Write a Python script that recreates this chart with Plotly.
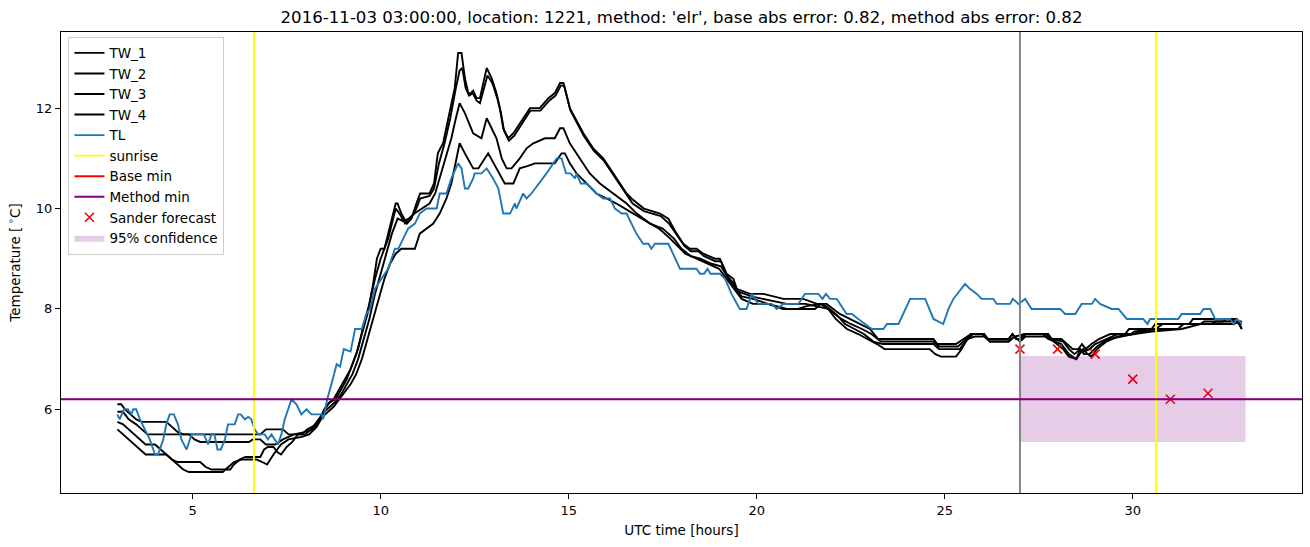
import plotly.graph_objects as go

# ---------------- data ----------------
# each series: list of (UTC hour, temperature)
TW_1 = [(3.0,6.1),(3.1,6.1),(3.2,6.0),(3.35,5.9),(3.5,5.8),(3.65,5.75),(4.3,5.75),(4.45,5.65),(4.6,5.55),(4.75,5.5),(6.8,5.5),(6.95,5.6),(7.4,5.6),(7.55,5.5),(7.9,5.5),(8.05,5.6),(8.3,5.7),(8.45,5.9),(8.6,6.1),(8.75,6.2),(8.9,6.4),(9.05,6.6),(9.2,6.8),(9.35,7.1),(9.5,7.5),(9.65,7.9),(9.8,8.5),(9.9,9.0),(10.0,9.2),(10.1,9.2),(10.2,9.5),(10.3,9.8),(10.4,10.1),(10.45,10.1),(10.55,9.9),(10.7,9.7),(10.82,9.8),(10.95,10.1),(11.05,10.3),(11.3,10.3),(11.42,10.5),(11.52,11.1),(11.66,11.3),(11.8,11.8),(11.97,12.4),(12.06,13.1),(12.15,13.1),(12.24,12.6),(12.33,12.3),(12.4,12.3),(12.46,12.35),(12.55,12.2),(12.64,12.2),(12.82,12.8),(12.95,12.6),(13.08,12.3),(13.17,12.0),(13.26,11.6),(13.39,11.4),(13.53,11.5),(13.79,11.8),(13.97,12.0),(14.23,12.0),(14.46,12.2),(14.63,12.3),(14.77,12.5),(14.86,12.5),(15.03,12.0),(15.39,11.5),(15.65,11.2),(15.92,11.0),(16.27,10.6),(16.54,10.3),(16.67,10.2),(17.0,10.0),(17.43,9.9),(17.65,9.8),(17.87,9.5),(18.05,9.3),(18.22,9.2),(18.4,9.2),(18.58,9.1),(18.89,9.0),(19.02,9.0),(19.2,8.7),(19.38,8.6),(19.47,8.4),(19.82,8.3),(20.18,8.3),(20.71,8.2),(21.24,8.2),(21.6,8.1),(21.86,8.1),(22.21,7.9),(22.48,7.8),(22.75,7.7),(23.01,7.6),(23.23,7.4),(24.7,7.4),(24.8,7.3),(25.3,7.3),(25.5,7.4),(25.7,7.5),(26.0,7.5),(26.15,7.4),(26.7,7.4),(26.8,7.5),(26.9,7.4),(27.0,7.4),(27.1,7.5),(27.7,7.5),(27.8,7.4),(28.1,7.4),(28.25,7.3),(28.4,7.2),(28.55,7.2),(28.65,7.3),(28.75,7.2),(28.9,7.3),(29.1,7.4),(29.4,7.5),(29.8,7.5),(29.9,7.6),(30.5,7.6),(30.6,7.7),(31.5,7.7),(31.6,7.8),(32.75,7.8),(32.9,7.6)]

TW_2 = [(3.0,5.95),(3.15,5.95),(3.3,5.8),(3.5,5.7),(3.65,5.6),(3.8,5.5),(4.9,5.5),(5.05,5.4),(5.2,5.35),(6.5,5.35),(6.6,5.4),(6.8,5.4),(6.95,5.3),(7.2,5.3),(7.4,5.4),(7.7,5.5),(8.0,5.55),(8.2,5.6),(8.35,5.75),(8.5,6.0),(8.65,6.15),(8.8,6.2),(8.95,6.4),(9.1,6.6),(9.25,6.9),(9.4,7.2),(9.55,7.7),(9.7,8.1),(9.85,8.6),(10.0,9.0),(10.1,9.2),(10.2,9.4),(10.3,9.7),(10.4,10.0),(10.5,9.9),(10.65,9.7),(10.8,9.8),(10.95,10.0),(11.05,10.2),(11.3,10.25),(11.42,10.4),(11.55,10.9),(11.7,11.3),(11.85,11.8),(12.0,12.4),(12.1,12.75),(12.17,12.8),(12.26,12.4),(12.35,12.25),(12.45,12.3),(12.55,12.15),(12.64,12.1),(12.84,12.65),(12.97,12.5),(13.1,12.2),(13.2,11.9),(13.28,11.55),(13.41,11.35),(13.55,11.45),(13.8,11.75),(13.98,11.95),(14.25,11.95),(14.48,12.15),(14.65,12.25),(14.79,12.45),(14.88,12.45),(15.05,11.95),(15.4,11.45),(15.67,11.15),(15.94,10.95),(16.3,10.55),(16.56,10.25),(16.7,10.1),(17.0,9.95),(17.45,9.85),(17.67,9.7),(17.9,9.45),(18.08,9.25),(18.25,9.15),(18.45,9.15),(18.6,9.05),(18.9,8.95),(19.05,8.95),(19.22,8.65),(19.4,8.5),(19.5,8.35),(19.85,8.25),(20.2,8.2),(20.8,8.1),(21.3,8.1),(21.6,8.05),(21.9,8.0),(22.25,7.8),(22.5,7.7),(22.8,7.6),(23.05,7.5),(23.3,7.35),(24.7,7.35),(24.85,7.25),(25.35,7.25),(25.5,7.35),(25.7,7.5),(26.05,7.5),(26.2,7.35),(26.7,7.35),(26.85,7.45),(27.15,7.5),(27.75,7.5),(27.85,7.4),(28.15,7.35),(28.3,7.2),(28.45,7.1),(28.6,7.2),(28.7,7.15),(28.85,7.2),(29.0,7.3),(29.3,7.4),(29.6,7.5),(29.95,7.5),(30.05,7.55),(30.6,7.6),(30.8,7.7),(31.8,7.7),(31.9,7.75),(32.4,7.75),(32.5,7.8),(32.9,7.7)]

TW_3 = [(3.0,5.75),(3.15,5.7),(3.3,5.6),(3.45,5.5),(3.6,5.4),(3.75,5.3),(4.0,5.3),(4.15,5.2),(4.3,5.1),(4.45,5.0),(4.6,4.95),(5.2,4.95),(5.35,4.85),(5.5,4.8),(6.0,4.8),(6.1,4.9),(6.25,5.0),(6.4,5.05),(6.8,5.05),(6.9,5.2),(7.0,5.25),(7.15,5.25),(7.25,5.15),(7.35,5.1),(7.5,5.25),(7.65,5.35),(7.8,5.5),(8.0,5.5),(8.15,5.6),(8.35,5.8),(8.5,5.95),(8.65,6.05),(8.8,6.15),(8.95,6.3),(9.1,6.5),(9.25,6.7),(9.4,7.0),(9.55,7.4),(9.7,7.8),(9.85,8.3),(10.0,8.7),(10.15,9.1),(10.3,9.5),(10.45,9.8),(10.6,9.75),(10.75,9.8),(10.9,9.9),(11.1,10.0),(11.3,10.1),(11.45,10.3),(11.6,10.7),(11.75,11.1),(11.88,11.4),(12.0,11.8),(12.1,12.1),(12.24,11.9),(12.46,11.5),(12.68,11.4),(12.82,11.8),(12.95,11.6),(13.08,11.4),(13.22,11.0),(13.35,10.8),(13.48,10.8),(13.7,11.0),(13.88,11.2),(14.06,11.3),(14.37,11.4),(14.63,11.4),(14.77,11.6),(14.86,11.6),(15.03,11.3),(15.3,11.0),(15.56,10.7),(15.83,10.5),(16.19,10.3),(16.54,10.1),(16.81,9.9),(17.16,9.7),(17.5,9.6),(17.8,9.4),(18.0,9.2),(18.25,9.05),(18.5,9.0),(18.8,8.9),(19.05,8.85),(19.25,8.6),(19.45,8.4),(19.6,8.25),(19.9,8.2),(20.3,8.1),(20.8,8.0),(21.3,8.0),(21.55,8.0),(21.7,8.1),(21.85,8.05),(22.1,7.9),(22.35,7.7),(22.6,7.6),(22.85,7.5),(23.1,7.35),(23.35,7.3),(24.7,7.3),(24.85,7.2),(25.4,7.2),(25.55,7.35),(25.75,7.5),(26.0,7.5),(26.15,7.4),(26.7,7.4),(26.8,7.5),(26.9,7.4),(27.05,7.4),(27.15,7.5),(27.6,7.5),(27.75,7.4),(28.1,7.3),(28.3,7.1),(28.5,7.0),(28.6,7.2),(28.7,7.1),(28.85,7.1),(29.05,7.25),(29.35,7.4),(29.7,7.45),(30.0,7.5),(30.6,7.6),(31.2,7.6),(31.35,7.7),(32.1,7.7),(32.2,7.75),(32.9,7.75)]

TW_4 = [(3.0,5.6),(3.15,5.5),(3.3,5.4),(3.45,5.3),(3.6,5.2),(3.75,5.1),(4.3,5.1),(4.45,5.0),(4.6,4.9),(4.75,4.8),(4.9,4.75),(5.8,4.75),(5.95,4.85),(6.1,4.95),(6.3,5.0),(6.7,5.0),(6.85,4.95),(6.98,4.9),(7.15,5.1),(7.35,5.3),(7.55,5.4),(7.9,5.45),(8.1,5.5),(8.3,5.65),(8.45,5.85),(8.6,5.95),(8.75,6.05),(8.9,6.2),(9.05,6.35),(9.2,6.5),(9.35,6.7),(9.5,7.0),(9.65,7.4),(9.8,7.8),(9.95,8.2),(10.1,8.6),(10.25,8.9),(10.4,9.1),(10.55,9.2),(10.91,9.2),(11.04,9.5),(11.22,9.6),(11.4,9.7),(11.57,9.9),(11.75,10.2),(11.88,10.5),(12.1,11.3),(12.24,11.1),(12.46,10.8),(12.6,10.8),(12.86,11.1),(13.08,10.8),(13.3,10.5),(13.53,10.5),(13.7,10.8),(13.92,10.85),(14.1,10.9),(14.63,10.9),(14.81,11.1),(14.9,11.1),(15.03,10.9),(15.21,10.7),(15.48,10.5),(15.74,10.3),(16.01,10.2),(16.27,10.1),(16.72,9.9),(17.16,9.7),(17.4,9.6),(17.7,9.4),(17.9,9.25),(18.1,9.1),(18.4,9.0),(18.7,8.9),(19.0,8.8),(19.2,8.6),(19.4,8.4),(19.6,8.2),(19.9,8.1),(20.3,8.1),(20.7,8.0),(21.1,8.0),(21.3,8.05),(21.7,8.1),(21.9,8.0),(22.1,7.8),(22.4,7.6),(22.7,7.5),(22.95,7.4),(23.2,7.3),(23.4,7.2),(24.6,7.2),(24.75,7.1),(24.9,7.05),(25.3,7.05),(25.45,7.2),(25.6,7.4),(25.8,7.45),(26.05,7.45),(26.2,7.35),(26.7,7.35),(26.85,7.45),(27.0,7.35),(27.15,7.45),(27.7,7.45),(27.9,7.35),(28.15,7.2),(28.3,7.05),(28.5,7.0),(28.6,7.1),(28.68,7.2),(28.8,7.1),(28.9,7.05),(29.05,7.2),(29.3,7.35),(29.6,7.45),(30.0,7.5),(30.5,7.55),(31.3,7.6),(31.8,7.7),(32.7,7.7),(32.8,7.75),(32.9,7.6)]

TL = [(3.0,5.9),(3.06,5.8),(3.17,6.0),(3.28,6.0),(3.37,5.9),(3.42,6.0),(3.5,6.0),(3.6,5.8),(3.73,5.6),(3.86,5.4),(4.0,5.1),(4.08,5.1),(4.22,5.4),(4.3,5.7),(4.39,5.9),(4.5,5.9),(4.61,5.7),(4.7,5.4),(4.84,5.2),(4.97,5.5),(5.3,5.5),(5.41,5.3),(5.5,5.5),(5.58,5.5),(5.66,5.2),(5.75,5.2),(5.86,5.4),(5.94,5.7),(6.12,5.7),(6.21,5.9),(6.28,5.9),(6.39,5.8),(6.48,5.85),(6.56,5.8),(6.65,5.6),(6.74,5.5),(6.92,5.5),(7.0,5.4),(7.1,5.5),(7.19,5.4),(7.27,5.3),(7.36,5.5),(7.45,5.8),(7.54,6.0),(7.63,6.2),(7.76,6.1),(7.89,5.9),(8.03,6.0),(8.16,5.9),(8.34,5.9),(8.43,5.9),(8.47,5.8),(8.58,6.2),(8.69,6.5),(8.83,6.9),(8.92,6.85),(9.02,7.2),(9.2,7.15),(9.32,7.6),(9.5,7.6),(9.62,7.9),(9.72,8.0),(9.85,8.4),(10.02,8.6),(10.2,8.8),(10.38,9.2),(10.47,9.2),(10.6,9.4),(10.73,9.6),(10.91,9.7),(11.04,9.9),(11.22,10.0),(11.49,10.0),(11.57,10.3),(11.75,10.3),(11.88,10.6),(12.06,10.9),(12.15,10.8),(12.24,10.4),(12.33,10.4),(12.46,10.6),(12.5,10.7),(12.68,10.7),(12.82,10.8),(12.99,10.6),(13.13,10.4),(13.26,9.9),(13.44,9.9),(13.57,10.1),(13.61,10.0),(13.79,10.3),(13.88,10.2),(14.01,10.3),(14.41,10.7),(14.68,11.0),(14.81,11.0),(14.93,10.7),(15.05,10.7),(15.17,10.6),(15.21,10.7),(15.32,10.5),(15.48,10.5),(15.61,10.4),(15.74,10.3),(15.92,10.2),(16.1,10.2),(16.23,10.0),(16.41,9.9),(16.54,9.9),(16.67,9.7),(16.8,9.5),(16.98,9.3),(17.12,9.3),(17.2,9.2),(17.29,9.3),(17.65,9.3),(17.78,9.1),(17.96,8.8),(18.4,8.8),(18.49,8.7),(18.6,8.7),(18.69,8.8),(18.77,8.7),(19.02,8.7),(19.16,8.6),(19.33,8.3),(19.55,8.0),(19.73,8.0),(19.87,8.3),(20.04,8.1),(20.4,8.1),(20.53,8.0),(20.71,8.1),(21.11,8.1),(21.28,8.3),(21.64,8.3),(21.75,8.2),(21.84,8.3),(21.95,8.2),(22.13,8.2),(22.39,7.9),(22.53,7.9),(22.7,7.8),(22.88,7.7),(23.06,7.6),(23.37,7.6),(23.46,7.7),(23.77,7.7),(23.9,7.9),(24.08,8.2),(24.48,8.2),(24.7,7.8),(24.96,7.7),(25.1,8.0),(25.23,8.2),(25.54,8.5),(25.67,8.4),(25.85,8.3),(25.98,8.2),(26.29,8.2),(26.38,8.1),(26.74,8.1),(26.81,8.2),(26.96,8.1),(27.14,8.2),(27.31,8.0),(28.07,8.0),(28.2,7.9),(28.47,7.9),(28.64,8.1),(28.91,8.1),(29.0,8.2),(29.13,8.1),(29.44,8.0),(29.62,8.0),(29.84,7.8),(30.28,7.8),(30.39,7.7),(30.46,7.8),(31.21,7.8),(31.3,7.9),(31.79,7.9),(31.88,8.0),(32.06,8.0),(32.19,7.8),(32.59,7.8),(32.68,7.7),(32.77,7.8),(32.9,7.7)]

sunrise_hours = [6.63, 30.62]
forecast_hour = 27.0
base_min = 6.2
method_min = 6.2
sander_hours = [27, 28, 29, 30, 31, 32]
sander_values = [7.2, 7.2, 7.1, 6.6, 6.2, 6.32]
conf_start, conf_end = 27.0, 33.0
conf_low, conf_high = 5.35, 7.06

title = ("2016-11-03 03:00:00, location: 1221, method: 'elr', "
         "base abs error: 0.82, method abs error: 0.82")

# ---------------- figure ----------------
FONT = "DejaVu Sans"
fig = go.Figure()

series = [("TW_1", TW_1, "black"), ("TW_2", TW_2, "black"),
          ("TW_3", TW_3, "black"), ("TW_4", TW_4, "black"),
          ("TL", TL, "#1f77b4")]
for name, pts, col in series:
    fig.add_trace(go.Scatter(x=[p[0] for p in pts], y=[p[1] for p in pts],
                             mode="lines", name=name,
                             line=dict(color=col, width=1.9)))

# legend-only entries for the reference lines (drawn as shapes below)
for name, col in [("sunrise", "yellow"), ("Base min", "red"), ("Method min", "purple")]:
    fig.add_trace(go.Scatter(x=[None], y=[None], mode="lines", name=name,
                             line=dict(color=col, width=1.9)))

fig.add_trace(go.Scatter(x=sander_hours, y=sander_values, mode="markers",
                         name="Sander forecast",
                         marker=dict(symbol="x-thin", size=9, color="red",
                                     line=dict(color="red", width=1.6))))

fig.add_trace(go.Scatter(x=[conf_start, conf_end, conf_end, conf_start, conf_start],
                         y=[conf_low, conf_low, conf_high, conf_high, conf_low],
                         mode="lines", fill="toself", name="95% confidence",
                         fillcolor="rgba(128,0,128,0.2)",
                         line=dict(width=0, color="rgba(0,0,0,0)")))

for h in sunrise_hours:
    fig.add_shape(type="line", xref="x", yref="paper", x0=h, x1=h, y0=0, y1=1,
                  line=dict(color="yellow", width=1.9), layer="above")
fig.add_shape(type="line", xref="x", yref="paper", x0=forecast_hour, x1=forecast_hour,
              y0=0, y1=1, line=dict(color="grey", width=1.9), layer="above")
# base min lies exactly under method min (same value); keep it thinner so it stays hidden
fig.add_shape(type="line", xref="paper", yref="y", x0=0, x1=1, y0=base_min, y1=base_min,
              line=dict(color="red", width=1.0), layer="above")
fig.add_shape(type="line", xref="paper", yref="y", x0=0, x1=1, y0=method_min, y1=method_min,
              line=dict(color="purple", width=2.0), layer="above")

# axis ranges with matplotlib-like 5% margins
all_y = [p[1] for _, pts, _ in series for p in pts] + sander_values
xmin, xmax = 3.0, 33.0
ymin, ymax = min(all_y), max(all_y)
xpad = 0.05 * (xmax - xmin)
ypad = 0.05 * (ymax - ymin)

AX_FONT = dict(family=FONT, size=13.5, color="black")
fig.update_layout(
    width=1310, height=547,
    margin=dict(l=61, r=8, t=32, b=54),
    paper_bgcolor="white", plot_bgcolor="white",
    font=dict(family=FONT, size=13, color="black"),
    title=dict(text=title, x=0.5, xref="paper", xanchor="center",
               y=1 - 17 / 547, yref="container", yanchor="middle",
               font=dict(family=FONT, size=16.6, color="black")),
    showlegend=True,
    legend=dict(x=0.006, y=0.99, xanchor="left", yanchor="top",
                bgcolor="rgba(255,255,255,0.8)", bordercolor="#cccccc",
                borderwidth=1, font=dict(family=FONT, size=13.5),
                tracegroupgap=0),
    xaxis=dict(range=[xmin - xpad, xmax + xpad], tickvals=[5, 10, 15, 20, 25, 30],
               showgrid=False, zeroline=False, showline=True, mirror=True,
               linecolor="black", linewidth=1, ticks="outside", ticklen=5,
               tickcolor="black", tickfont=dict(family=FONT, size=13),
               title=dict(text="UTC time [hours]", standoff=8, font=AX_FONT)),
    yaxis=dict(range=[ymin - ypad, ymax + ypad], tickvals=[6, 8, 10, 12],
               showgrid=False, zeroline=False, showline=True, mirror=True,
               linecolor="black", linewidth=1, ticks="outside", ticklen=5,
               tickcolor="black", tickfont=dict(family=FONT, size=13),
               title=dict(text="Temperature [\u2009<sup>\u2218</sup>C]", standoff=12,
                          font=AX_FONT)),
)

fig.write_html("out.html")
